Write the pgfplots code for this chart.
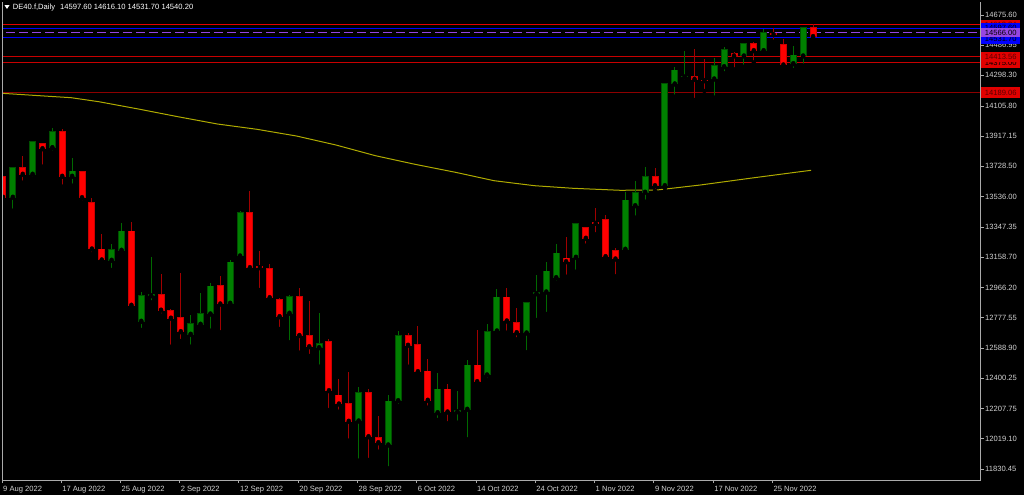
\documentclass[border=0pt]{standalone}
\usepackage{fontspec}
\setmainfont{Liberation Sans}
\usepackage{pgfplots}
\pgfplotsset{compat=1.18}
\usepackage{pgfplotstable}

\definecolor{bullbody}{RGB}{0,128,0}
\definecolor{bulledge}{RGB}{0,80,0}
\definecolor{bullwick}{RGB}{0,105,0}
\definecolor{bearbody}{RGB}{255,0,0}
\definecolor{bearedge}{RGB}{205,0,0}
\definecolor{bearwick}{RGB}{160,0,0}
\definecolor{maline}{RGB}{175,170,0}
\definecolor{lblgray}{RGB}{210,210,210}
\definecolor{framegray}{RGB}{170,170,170}
\definecolor{lvred}{RGB}{225,0,0}
\definecolor{lvred2}{RGB}{200,0,0}
\definecolor{lvdark}{RGB}{140,0,0}
\definecolor{lvblue}{RGB}{0,0,255}
\definecolor{lvpurple}{RGB}{150,70,225}
\definecolor{boxtext}{RGB}{90,0,0}

\pgfplotstableread{
i o h l c
1 13533.1 13724.9 13449.1 13718.6
3 13677.3 13882.0 13647.8 13879.7
5 13844.0 13967.4 13812.6 13946.7
7 13664.7 13779.4 13605.8 13697.9
11 13138.3 13240.5 13077.5 13207.2
12 13200.9 13370.2 13182.2 13321.9
14 12756.0 12941.5 12701.5 12916.5
15 12916.5 13157.1 12875.1 12927.1
19 12674.5 12795.5 12596.8 12743.5
20 12737.2 12935.3 12722.2 12806.2
21 12801.8 12994.2 12697.1 12977.2
23 12868.8 13140.2 12851.9 13127.6
24 13165.2 13447.3 13140.2 13436.6
29 12806.2 12920.8 12624.4 12912.7
32 12590.6 12806.2 12471.5 12618.1
36 12131.2 12346.1 11882.4 12306.7
39 11980.8 12294.1 11834.8 12256.5
40 12258.4 12697.1 12225.2 12665.8
44 12183.2 12430.1 12137.5 12331.7
46 12189.5 12321.1 12120.5 12200.1
47 12204.5 12513.5 12016.5 12482.1
49 12419.5 12739.1 12388.1 12690.8
50 12695.2 12956.6 12670.2 12908.3
53 12682.7 12876.0 12561.7 12870.7
54 12929.0 13046.2 12764.2 12939.6
55 12939.6 13125.8 12801.8 13071.2
56 13029.3 13240.5 12997.9 13184.0
58 13157.1 13373.9 13066.9 13365.8
63 13207.2 13568.2 13185.9 13516.2
64 13480.5 13633.4 13405.3 13564.5
65 13564.5 13724.9 13505.5 13664.7
67 13605.8 14247.6 13589.5 14243.2
68 14243.2 14351.6 14163.6 14330.9
69 14287.0 14451.9 14257.6 14293.3
72 14274.5 14404.2 14157.3 14356.0
73 14351.6 14476.9 14310.2 14460.6
75 14418.7 14502.0 14351.6 14493.9
77 14451.9 14586.0 14445.6 14564.7
80 14370.4 14483.2 14330.9 14424.9
81 14418.7 14602.3 14357.9 14597.6
}\bulltab

\pgfplotstableread{
i o h l c
0 13662.2 13683.5 13505.5 13533.1
2 13718.6 13793.8 13624.6 13677.3
4 13867.2 13871.5 13724.9 13837.7
6 13946.7 13959.3 13599.6 13664.7
8 13696.0 13699.0 13501.8 13530.6
9 13501.8 13530.6 13177.8 13209.1
10 13209.1 13301.3 13117.0 13140.2
13 13321.9 13378.3 12852.0 12856.3
16 12925.2 13052.4 12792.4 12825.6
17 12825.6 12833.0 12596.8 12775.4
18 12776.7 13056.8 12632.6 12690.8
22 12981.6 13039.9 12687.1 12864.4
25 13436.6 13574.5 13066.9 13091.9
26 13100.7 13198.5 12952.2 13091.9
27 13085.7 13115.1 12885.1 12903.9
28 12889.5 12900.1 12707.8 12784.9
30 12912.7 12966.6 12559.2 12667.0
31 12665.8 12885.1 12538.5 12596.8
33 12630.7 12645.1 12200.1 12321.1
34 12294.1 12394.4 12189.5 12237.7
35 12242.1 12440.2 12007.7 12129.3
37 12311.1 12329.9 11886.8 12032.8
38 12029.0 12162.5 11938.8 11995.2
41 12663.9 12684.6 12471.5 12605.6
42 12607.5 12726.6 12430.1 12440.2
43 12444.5 12517.9 12214.6 12260.9
45 12331.7 12361.8 12116.8 12187.6
48 12482.1 12701.5 12371.2 12377.5
51 12908.3 12966.6 12684.6 12757.9
52 12749.7 12841.2 12643.2 12684.6
57 13152.7 13282.4 13035.5 13129.5
59 13342.6 13348.9 13229.8 13276.2
60 13378.3 13464.2 13301.3 13370.2
61 13392.7 13422.2 13155.8 13160.9
62 13196.6 13215.4 13038.0 13146.4
66 13664.7 13718.6 13574.5 13605.8
70 14288.9 14462.5 14142.9 14272.6
71 14268.2 14399.8 14199.3 14263.9
74 14433.1 14445.6 14335.3 14418.7
76 14493.9 14508.3 14379.2 14451.9
78 14560.9 14592.2 14508.3 14552.1
79 14492.0 14523.3 14347.8 14362.2
82 14597.6 14616.1 14531.7 14540.2
}\beartab

\newcommand{\lblfont}{\fontsize{7.6}{9}\selectfont}

\begin{document}
\begin{tikzpicture}[x=1pt,y=1pt]
\useasboundingbox (0,0) rectangle (1024,495);
\fill[black] (0,0) rectangle (1024,495);
\begin{axis}[
  name=ax,
  at={(2pt,15pt)}, anchor=south west,
  width=978.5pt, height=478pt, scale only axis,
  xmin=-0.1, xmax=98.95, ymin=11761.4, ymax=14757.1,
  clip mode=individual,
  axis line style={draw=none},
  tick align=outside,
  major tick length=3pt,
  tick style={framegray, line width=0.8pt},
  xtick pos=left, ytick pos=right,
  xticklabel pos=left, yticklabel pos=right,
  xtick={-0.1,5.88,11.88,17.88,23.88,29.88,35.88,41.88,47.88,53.88,59.88,65.88,71.88,77.88},
  xticklabels={9 Aug 2022,17 Aug 2022,25 Aug 2022,2 Sep 2022,12 Sep 2022,20 Sep 2022,28 Sep 2022,6 Oct 2022,14 Oct 2022,24 Oct 2022,1 Nov 2022,9 Nov 2022,17 Nov 2022,25 Nov 2022},
  ytick={11830.45,12019.10,12207.75,12400.25,12588.90,12777.55,12966.20,13158.70,13347.35,13536.00,13728.50,13917.15,14105.80,14298.30,14486.95,14675.60},
  yticklabels={11830.45,12019.10,12207.75,12400.25,12588.90,12777.55,12966.20,13158.70,13347.35,13536.00,13728.50,13917.15,14105.80,14298.30,14486.95,14675.60},
  xticklabel style={font=\lblfont, text=lblgray, anchor=north west, inner sep=0pt, xshift=1pt, yshift=-2.5pt},
  yticklabel style={font=\lblfont, text=lblgray, anchor=west, inner sep=0pt, xshift=1.5pt},
]
% horizontal levels
\addplot[lvdark, line width=1pt, forget plot] coordinates {(-1,14189.06) (100,14189.06)};
\addplot[lvred2, line width=1pt, forget plot] coordinates {(-1,14375.00) (100,14375.00)};
\addplot[lvred2, line width=1pt, forget plot] coordinates {(-1,14413.56) (100,14413.56)};
\addplot[lvblue, line width=1pt, forget plot] coordinates {(-1,14531.70) (100,14531.70)};
\addplot[lvpurple, line width=1pt, dash pattern=on 9pt off 4pt, forget plot] coordinates {(-1,14566.00) (100,14566.00)};
\addplot[lvblue, line width=1pt, forget plot] coordinates {(-1,14592.00) (100,14592.00)};
\addplot[lvred, line width=1pt, forget plot] coordinates {(-1,14613.84) (100,14613.84)};
% moving average
\addplot[maline, line width=1pt, forget plot] coordinates {
(-0.1,14184.9) (3.7,14169.8) (6.9,14157.3) (9.7,14132.2) (13.7,14086.5) (17.7,14038.2)
(21.7,13992.5) (25.7,13959.3) (29.7,13917.3) (33.7,13860.9) (37.7,13793.8) (41.7,13739.9)
(45.8,13689.8) (49.7,13637.2) (53.8,13605.8) (57.7,13589.5) (62.5,13577.0) (66.2,13578.9)
(70.6,13610.2) (75.6,13652.2) (80.7,13693.6) (81.8,13702.3)};
% wicks
\addplot[only marks, mark=none, forget plot, error bars/.cd, y dir=plus, y explicit, error mark=none,
  error bar style={line width=1pt, draw=bullwick}]
  table[x=i, y=l, y error expr={\thisrow{h}-\thisrow{l}}] {\bulltab};
\addplot[only marks, mark=none, forget plot, error bars/.cd, y dir=plus, y explicit, error mark=none,
  error bar style={line width=1pt, draw=bearwick}]
  table[x=i, y=l, y error expr={\thisrow{h}-\thisrow{l}}] {\beartab};
% bodies (edge)
\addplot[only marks, mark=none, forget plot, error bars/.cd, y dir=plus, y explicit, error mark=none,
  error bar style={line width=7pt, draw=bulledge}]
  table[x=i, y expr={min(\thisrow{o},\thisrow{c})-3.1}, y error expr={abs(\thisrow{c}-\thisrow{o})+6.2}] {\bulltab};
\addplot[only marks, mark=none, forget plot, error bars/.cd, y dir=plus, y explicit, error mark=none,
  error bar style={line width=7pt, draw=bearedge}]
  table[x=i, y expr={min(\thisrow{o},\thisrow{c})-3.1}, y error expr={abs(\thisrow{c}-\thisrow{o})+6.2}] {\beartab};
% bodies (fill)
\addplot[only marks, mark=none, forget plot, error bars/.cd, y dir=plus, y explicit, error mark=none,
  error bar style={line width=5pt, draw=bullbody}]
  table[x=i, y expr={min(\thisrow{o},\thisrow{c})+3.1}, y error expr={max(abs(\thisrow{c}-\thisrow{o})-6.2,0)}] {\bulltab};
\addplot[only marks, mark=none, forget plot, error bars/.cd, y dir=plus, y explicit, error mark=none,
  error bar style={line width=5pt, draw=bearbody}]
  table[x=i, y expr={min(\thisrow{o},\thisrow{c})+3.1}, y error expr={max(abs(\thisrow{c}-\thisrow{o})-6.2,0)}] {\beartab};
% price labels
\tikzset{pbox/.style={anchor=west, minimum width=39pt, minimum height=10.5pt, inner sep=0pt, font=\lblfont, xshift=0.5pt}}
\node[pbox, fill=lvred, text=boxtext] at (axis cs:98.95,14189.06) {14189.06};
\node[pbox, fill=lvred, text=black] at (axis cs:98.95,14375.00) {14375.00};
\node[pbox, fill=lvred, text=boxtext] at (axis cs:98.95,14413.56) {14413.56};
\node[pbox, fill=lvred, text=boxtext] at (axis cs:98.95,14613.84) {14613.84};
\node[pbox, fill=lvblue, text=black] at (axis cs:98.95,14528.0) {14531.70};
\node[pbox, fill=lvblue, text=black] at (axis cs:98.95,14592.0) {14597.60};
\node[pbox, fill=lvpurple, text=black, minimum height=9pt] at (axis cs:98.95,14566.00) {14566.00};
\end{axis}
\draw[framegray, line width=1pt] (ax.north west) -- (ax.south west) -- (ax.south east) -- (ax.north east);
\fill[white] (4.5,489.8) -- (9.5,489.8) -- (7,486) -- cycle;
\node[anchor=west, inner sep=0pt, text=white, font=\lblfont] at (12.7,487.5) {DE40.f,Daily\hspace{5pt}14597.60 14616.10 14531.70 14540.20};
\end{tikzpicture}
\end{document}
